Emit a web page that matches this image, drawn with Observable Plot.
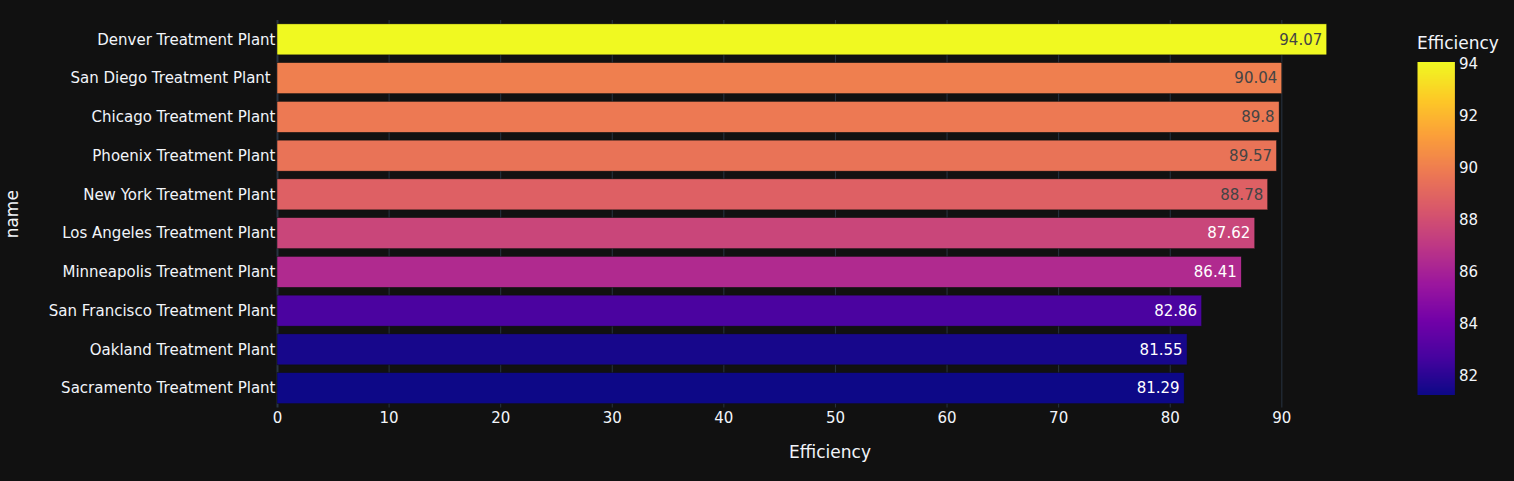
<!DOCTYPE html>
<html><head><meta charset="utf-8">
<script src="https://cdn.jsdelivr.net/npm/d3@7"></script>
<script src="https://cdn.jsdelivr.net/npm/@observablehq/plot@0.6"></script>
<style>
html,body{margin:0;padding:0;background:#111111;}
#wrap{position:relative;width:1514px;height:481px;overflow:hidden;font-family:"DejaVu Sans",Verdana,sans-serif;background:#111111;}
#wrap svg text{white-space:pre;}
#main{position:absolute;left:0;top:0;}
#cbar{position:absolute;left:1417px;top:0;}
#cbtitle{position:absolute;left:1417px;top:33px;color:#f2f5fa;font-size:17px;line-height:20px;white-space:nowrap;}
</style></head><body>
<div id="wrap"><div id="main"></div><div id="cbar"></div><div id="cbtitle">Efficiency</div></div>
<script>
const names = [
  "Denver Treatment Plant",
  "San Diego Treatment Plant ",
  "Chicago Treatment Plant",
  "Phoenix Treatment Plant",
  "New York Treatment Plant",
  "Los Angeles Treatment Plant",
  "Minneapolis Treatment Plant",
  "San Francisco Treatment Plant",
  "Oakland Treatment Plant",
  "Sacramento Treatment Plant"
];
const efficiency = [94.07, 90.04, 89.8, 89.57, 88.78, 87.62, 86.41, 82.86, 81.55, 81.29];
const xTicks = [0, 10, 20, 30, 40, 50, 60, 70, 80, 90];
const cbarTicks = [82, 84, 86, 88, 90, 92, 94];
const plasma = ["#0d0887","#46039f","#7201a8","#9c179e","#bd3786","#d8576b","#ed7953","#fb9f3a","#fdca26","#f0f921"];
const fontColor = "#f2f5fa", gridColor = "#283442", bg = "#111111";
const textDark = "#444444", textLight = "#ffffff";

const cmin = d3.min(efficiency), cmax = d3.max(efficiency);
const colorDomain = plasma.map((_, i) => cmin + (cmax - cmin) * i / (plasma.length - 1));
const colorOpts = {type: "linear", domain: colorDomain, range: plasma, interpolate: "rgb"};
const colorFn = d3.scaleLinear().domain(colorDomain).range(plasma).interpolate(d3.interpolateRgb);
function textColor(v) {
  const c = d3.rgb(colorFn(v));
  return (c.r * 299 + c.g * 587 + c.b * 114) / 1000 > 128 ? textDark : textLight;
}
const rows = names.map((name, i) => ({name, value: efficiency[i]}));

const main = Plot.plot({
  width: 1514, height: 481,
  marginLeft: 277, marginRight: 132, marginTop: 20, marginBottom: 73.5,
  style: {background: bg, color: fontColor, fontFamily: "DejaVu Sans, Verdana, sans-serif", fontSize: "15px"},
  x: {domain: [0, 99.02], ticks: xTicks},
  y: {domain: names, paddingInner: 0.2, paddingOuter: 0.1, round: false},
  color: colorOpts,
  marks: [
    Plot.gridX(xTicks.slice(1), {stroke: gridColor, strokeOpacity: 1, strokeWidth: 1}),
    Plot.ruleX([0], {stroke: gridColor, strokeWidth: 2, strokeOpacity: 1}),
    Plot.barX(rows, {x: "value", y: "name", fill: "value", stroke: bg, strokeWidth: 0.5}),
    Plot.text(rows, {filter: d => textColor(d.value) === textDark, x: "value", y: "name", text: d => String(d.value), textAnchor: "end", dx: -5, fill: textDark, fontSize: 15}),
    Plot.text(rows, {filter: d => textColor(d.value) === textLight, x: "value", y: "name", text: d => String(d.value), textAnchor: "end", dx: -5, fill: textLight, fontSize: 15}),
    Plot.axisX(xTicks, {tickSize: 0, tickPadding: 4, fontSize: 15, label: "Efficiency", labelAnchor: "center", labelArrow: "none", labelOffset: 50}),
    Plot.axisY({tickSize: 0, tickPadding: 2, fontSize: 15, label: "name", labelAnchor: "center", labelArrow: "none", labelOffset: 272})
  ]
});
d3.select(main).selectAll('[aria-label="x-axis label"] text, [aria-label="y-axis label"] text').attr("font-size", 17);
document.getElementById("main").appendChild(main);

const cbar = Plot.plot({
  width: 97, height: 481,
  marginLeft: 0, marginRight: 59.6, marginTop: 61.5, marginBottom: 86.5,
  style: {background: "transparent", color: fontColor, fontFamily: "DejaVu Sans, Verdana, sans-serif", fontSize: "15px"},
  x: {domain: [0, 1], axis: null},
  y: {domain: [cmin, cmax]},
  color: colorOpts,
  marks: [
    Plot.raster({fill: (x, y) => y, x1: 0, x2: 1, y1: cmin, y2: cmax, width: 1, height: 300, imageRendering: "auto"}),
    Plot.axisY(cbarTicks, {anchor: "right", tickSize: 0, tickPadding: 4, fontSize: 15, label: null})
  ]
});
document.getElementById("cbar").appendChild(cbar);
</script>
</body></html>
